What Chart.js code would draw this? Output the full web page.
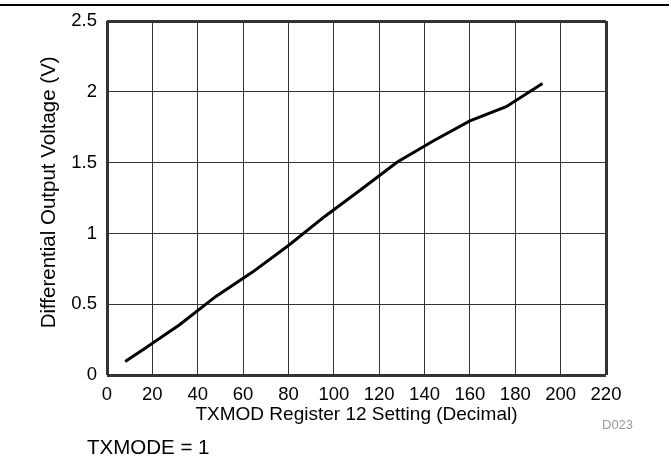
<!DOCTYPE html>
<html>
<head>
<meta charset="utf-8">
<script src="https://cdn.jsdelivr.net/npm/chart.js@4.4.1/dist/chart.umd.min.js"></script>
<style>
  body { margin: 0; background: #fff; font-family: "Liberation Sans", Arial, sans-serif; }
  #wrap { position: relative; width: 669px; height: 466px; }
  #topRule { position: absolute; left: 0; top: 4px; width: 669px; height: 2px; background: #000; }
  #code { position: absolute; left: 602px; top: 417px; font-size: 13px; color: #999; }
  #note { position: absolute; left: 87px; top: 435px; font-size: 20.5px; color: #000; }
</style>
</head>
<body>
<div id="wrap">
  <canvas id="txmod-chart"></canvas>
  <div id="topRule"></div>
  <div id="code">D023</div>
  <div id="note">TXMODE = 1</div>
</div>
<script>
// register 12 setting vs measured differential output
const regSetting = [8, 16, 32, 48, 64, 80, 96, 112, 128, 144, 160, 176, 192];
const outputVoltage = [0.095, 0.18, 0.355, 0.555, 0.725, 0.915, 1.12, 1.31, 1.505, 1.655, 1.795, 1.895, 2.06];

const xTicks = [0, 20, 40, 60, 80, 100, 120, 140, 160, 180, 200, 220];
const yTicks = ['0', '0.5', '1', '1.5', '2', '2.5'];

const points = regSetting.map((x, i) => ({ x: x, y: outputVoltage[i] }));

// the plot frame is drawn by making the edge grid lines heavier
const edgeWidth = (min, max) => (ctx) => {
  let v = ctx.tick ? ctx.tick.value : null;
  return (v === min || v === max) ? 3 : 1;
};

const tickFont = { family: "Liberation Sans", size: 18.5 };

let ctx = document.getElementById('txmod-chart');
new Chart(ctx, {
  type: 'line',
  data: {
    datasets: [{
      label: 'Differential Output Voltage',
      data: points,
      borderColor: '#000',
      borderWidth: 3,
      pointRadius: 0,
      tension: 0,
      fill: false,
    }]
  },
  options: {
    responsive: true,
    maintainAspectRatio: false,
    animation: false,
    layout: {
      padding: { top: 21, right: 63, left: 37, bottom: 40 }
    },
    plugins: {
      legend: { display: false },
      tooltip: { enabled: false },
    },
    scales: {
      x: {
        type: 'linear',
        min: 0,
        max: 220,
        afterFit: (scale) => { scale.height = 51; },
        afterBuildTicks: (scale) => { scale.ticks = xTicks.map(v => ({ value: v })); },
        border: { display: false },
        grid: {
          color: '#333',
          lineWidth: edgeWidth(0, 220),
          drawTicks: false,
        },
        ticks: {
          color: '#000',
          padding: 9,
          maxRotation: 0,
          autoSkip: false,
          font: tickFont,
        },
        title: {
          display: true,
          text: 'TXMOD Register 12 Setting (Decimal)',
          color: '#000',
          padding: 0,
          font: { family: "Liberation Sans", size: 19 },
        }
      },
      y: {
        min: 0,
        max: 2.5,
        afterFit: (scale) => { scale.width = 70; },
        afterBuildTicks: (scale) => { scale.ticks = yTicks.map(v => ({ value: parseFloat(v) })); },
        border: { display: false },
        grid: {
          color: '#333',
          lineWidth: edgeWidth(0, 2.5),
          drawTicks: false,
        },
        ticks: {
          color: '#000',
          padding: 10,
          autoSkip: false,
          font: tickFont,
          callback: (value) => yTicks.find(t => parseFloat(t) === value),
        },
        title: {
          display: true,
          // leading spaces nudge the rotated title slightly upward, as in the original
          text: '\u00a0\u00a0Differential Output Voltage (V)',
          color: '#000',
          padding: 0,
          font: { family: "Liberation Sans", size: 20.5 },
        }
      }
    }
  }
});
</script>
</body>
</html>
